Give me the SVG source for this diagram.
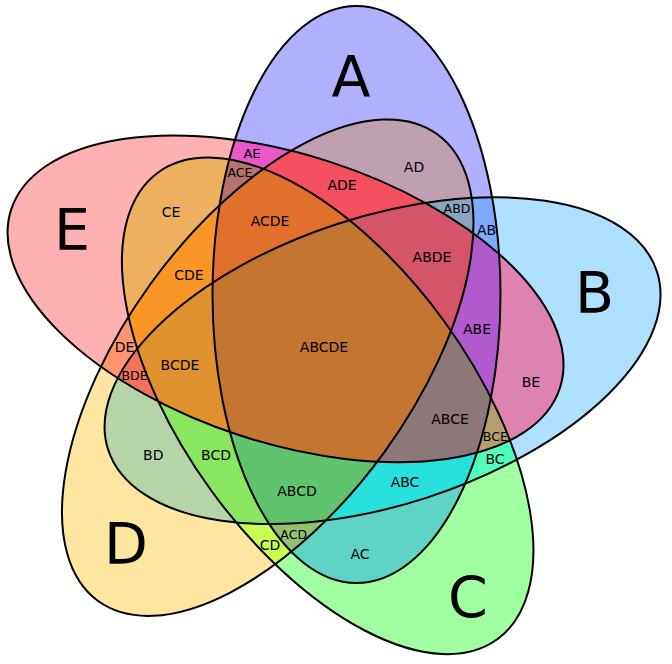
<svg xmlns="http://www.w3.org/2000/svg" xmlns:xlink="http://www.w3.org/1999/xlink" width="672" height="664" viewBox="0 0 672 664">
<style>
.o{fill:none;stroke:#000;stroke-width:2}
text{font-family:"DejaVu Sans","Liberation Sans",sans-serif;text-anchor:middle;fill:#000}
.l{font-size:14px}
.m{font-size:12.5px}
.b{font-size:57px}
</style>
<defs>
<ellipse id="eA" cx="356.5" cy="294.5" rx="144" ry="288.5"/>
<ellipse id="eB" cx="356.5" cy="294.5" rx="144" ry="288.5" transform="rotate(72 324 345.5)"/>
<ellipse id="eC" cx="356.5" cy="294.5" rx="144" ry="288.5" transform="rotate(144 324 345.5)"/>
<ellipse id="eD" cx="356.5" cy="294.5" rx="144" ry="288.5" transform="rotate(216 324 345.5)"/>
<ellipse id="eE" cx="356.5" cy="294.5" rx="144" ry="288.5" transform="rotate(288 324 345.5)"/>
<clipPath id="cA"><use href="#eA"/></clipPath>
<clipPath id="cB"><use href="#eB"/></clipPath>
<clipPath id="cC"><use href="#eC"/></clipPath>
<clipPath id="cD"><use href="#eD"/></clipPath>
<clipPath id="cE"><use href="#eE"/></clipPath>
</defs>
<g id="regions">
<use href="#eA" fill="#b0b0ff"/>
<use href="#eB" fill="#b0e0ff"/>
<use href="#eC" fill="#a0ffa0"/>
<use href="#eD" fill="#ffe6a0"/>
<use href="#eE" fill="#ffb0b0"/>
<g clip-path="url(#cA)"><use href="#eB" fill="#80aaff"/></g>
<g clip-path="url(#cA)"><use href="#eC" fill="#60d4c4"/></g>
<g clip-path="url(#cA)"><use href="#eD" fill="#c0a0b0"/></g>
<g clip-path="url(#cA)"><use href="#eE" fill="#e858c8"/></g>
<g clip-path="url(#cB)"><use href="#eC" fill="#50ffbe"/></g>
<g clip-path="url(#cB)"><use href="#eD" fill="#b6d4a8"/></g>
<g clip-path="url(#cB)"><use href="#eE" fill="#de82b0"/></g>
<g clip-path="url(#cC)"><use href="#eD" fill="#c8ff50"/></g>
<g clip-path="url(#cC)"><use href="#eE" fill="#ecb060"/></g>
<g clip-path="url(#cD)"><use href="#eE" fill="#ff9473"/></g>
<g clip-path="url(#cA)"><g clip-path="url(#cB)"><use href="#eC" fill="#28e0dc"/></g></g>
<g clip-path="url(#cA)"><g clip-path="url(#cB)"><use href="#eD" fill="#87a5be"/></g></g>
<g clip-path="url(#cA)"><g clip-path="url(#cB)"><use href="#eE" fill="#b05acd"/></g></g>
<g clip-path="url(#cA)"><g clip-path="url(#cC)"><use href="#eD" fill="#91c06e"/></g></g>
<g clip-path="url(#cA)"><g clip-path="url(#cC)"><use href="#eE" fill="#b4736e"/></g></g>
<g clip-path="url(#cA)"><g clip-path="url(#cD)"><use href="#eE" fill="#f5505f"/></g></g>
<g clip-path="url(#cB)"><g clip-path="url(#cC)"><use href="#eD" fill="#88e660"/></g></g>
<g clip-path="url(#cB)"><g clip-path="url(#cC)"><use href="#eE" fill="#b49e6e"/></g></g>
<g clip-path="url(#cB)"><g clip-path="url(#cD)"><use href="#eE" fill="#f0735f"/></g></g>
<g clip-path="url(#cC)"><g clip-path="url(#cD)"><use href="#eE" fill="#fa9628"/></g></g>
<g clip-path="url(#cA)"><g clip-path="url(#cB)"><g clip-path="url(#cC)"><use href="#eD" fill="#60c46e"/></g></g></g>
<g clip-path="url(#cA)"><g clip-path="url(#cB)"><g clip-path="url(#cC)"><use href="#eE" fill="#8c7878"/></g></g></g>
<g clip-path="url(#cA)"><g clip-path="url(#cB)"><g clip-path="url(#cD)"><use href="#eE" fill="#d45569"/></g></g></g>
<g clip-path="url(#cA)"><g clip-path="url(#cC)"><g clip-path="url(#cD)"><use href="#eE" fill="#e0702c"/></g></g></g>
<g clip-path="url(#cB)"><g clip-path="url(#cC)"><g clip-path="url(#cD)"><use href="#eE" fill="#e1912d"/></g></g></g>
<g clip-path="url(#cA)"><g clip-path="url(#cB)"><g clip-path="url(#cC)"><g clip-path="url(#cD)"><use href="#eE" fill="#c57532"/></g></g></g></g>
</g>
<g id="outlines">
<use href="#eA" class="o"/>
<use href="#eB" class="o"/>
<use href="#eC" class="o"/>
<use href="#eD" class="o"/>
<use href="#eE" class="o"/>
</g>
<g id="labels">
<text class="b" x="351" y="97">A</text>
<text class="b" x="594.5" y="313">B</text>
<text class="b" x="468" y="618">C</text>
<text class="b" x="126" y="564">D</text>
<text class="b" x="72" y="250">E</text>
<text class="l" x="486.5" y="234.5">AB</text>
<text class="l" x="360" y="559">AC</text>
<text class="l" x="414" y="171.7">AD</text>
<text class="l" x="252" y="158.3" style="font-size:13px">AE</text>
<text class="l" x="495" y="464.3">BC</text>
<text class="l" x="153.3" y="460">BD</text>
<text class="l" x="531" y="387.3">BE</text>
<text class="l" x="270" y="550">CD</text>
<text class="l" x="171" y="216.5">CE</text>
<text class="l" x="124.5" y="352.3">DE</text>
<text class="l" x="405" y="486.7">ABC</text>
<text class="m" x="457" y="212.7">ABD</text>
<text class="l" x="477" y="333.5">ABE</text>
<text class="m" x="293.7" y="539">ACD</text>
<text class="m" x="240" y="176.7">ACE</text>
<text class="l" x="342" y="190">ADE</text>
<text class="l" x="216" y="460">BCD</text>
<text class="m" x="495.3" y="440.7">BCE</text>
<text class="m" x="134.5" y="380">BDE</text>
<text class="l" x="189" y="280">CDE</text>
<text class="l" x="297" y="495.7">ABCD</text>
<text class="l" x="450" y="424">ABCE</text>
<text class="l" x="432" y="261.7">ABDE</text>
<text class="l" x="270" y="225.7">ACDE</text>
<text class="l" x="180" y="370">BCDE</text>
<text class="l" x="324" y="352.3">ABCDE</text>
</g>
</svg>
